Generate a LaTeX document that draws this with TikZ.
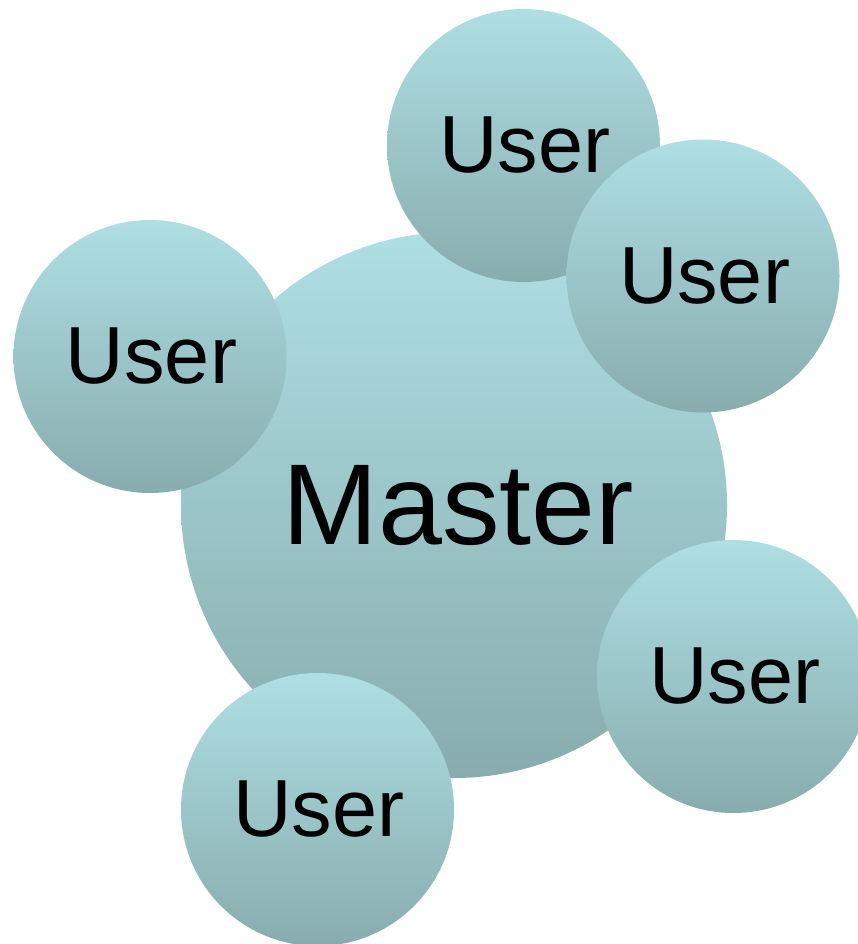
\documentclass[tikz,border=0pt]{standalone}
\usepackage{fontspec}
\setmainfont{Liberation Sans}
\definecolor{bTop}{HTML}{AEDFE3}
\definecolor{bMid}{HTML}{A8D6DA}
\definecolor{bBot}{HTML}{88ACAE}
\tikzset{
  bubble/.style={circle, inner sep=0pt, top color=bTop, middle color=bMid, bottom color=bBot, draw=none},
  userbubble/.style={bubble, minimum size=273pt, font=\fontsize{81}{81}\selectfont},
  masterbubble/.style={bubble, minimum size=546pt, font=\fontsize{115}{115}\selectfont}
}
\begin{document}
\begin{tikzpicture}[x=1pt,y=-1pt]
\useasboundingbox (0,0) rectangle (857,944);
\node[masterbubble] (master) at (454,505) {\hspace*{8pt}Master};
\node[userbubble] (u1) at (523.5,145.5) {\hspace*{3pt}User};
\node[userbubble] (u2) at (703,276) {\hspace*{3pt}User};
\node[userbubble] (u3) at (150,356.5) {\hspace*{3pt}User};
\node[userbubble] (u4) at (733.5,676.5) {\hspace*{3pt}User};
\node[userbubble] (u5) at (317.5,809.5) {\hspace*{3pt}User};
\end{tikzpicture}
\end{document}
